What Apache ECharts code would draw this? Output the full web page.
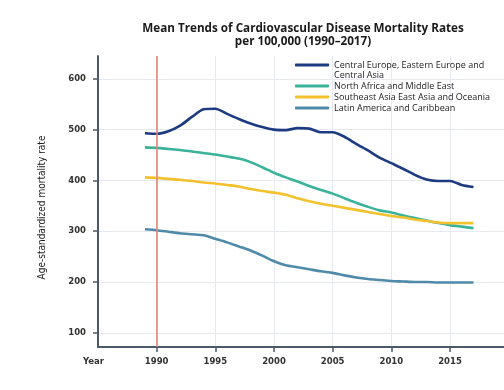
<!DOCTYPE html>
<html><head><meta charset="utf-8">
<script src="https://cdn.jsdelivr.net/npm/echarts@6/dist/echarts.min.js"></script>
<style>html,body{margin:0;padding:0;background:#fff}#c{width:504px;height:390px}</style>
</head><body><div id="c"></div><script>
const years = [1989,1990,1991,1992,1993,1994,1995,1996,1997,1998,1999,2000,2001,2002,2003,2004,2005,2006,2007,2008,2009,2010,2011,2012,2013,2014,2015,2016,2017];
const centralEurope = [493,492,497,508,525,540,541,531,521,512,505,500,499,503,502,495,495,486,472,459,445,434,423,411,402,399,399,391,387];
const northAfrica = [465,464,462,460,457,454,451,447,443,436,426,415,406,398,389,381,374,365,356,348,341,337,331,326,321,316,312,309,306];
const southeastAsia = [406,405,403,401,399,396,394,391,388,383,379,376,372,365,359,354,350,346,342,338,334,330,327,323,320,317,316,316,316];
const latinAmerica = [304,302,299,296,294,292,285,278,270,262,252,241,233,229,225,221,218,213,209,206,204,202,201,200,200,199,199,199,199];
const seriesNames = ['Central Europe, Eastern Europe and Central Asia','North Africa and Middle East','Southeast Asia East Asia and Oceania','Latin America and Caribbean'];
const xTickLabels = [1990,1995,2000,2005,2010,2015];
const yTickLabels = [100,200,300,400,500,600];
const markYear = 1990;

const colors = ['#1c3b80','#3bb39b','#f4c12e','#4f8aa8'];
const allData = [centralEurope, northAfrica, southeastAsia, latinAmerica];

const chart = echarts.init(document.getElementById('c'), null, {renderer:'canvas'});
const axisColor = '#4a5a6b';
const series = seriesNames.map((n,i)=>({
  name:n, type:'line', showSymbol:false, smooth:0.25,
  data: years.map((y,j)=>[y, allData[i][j]]),
  lineStyle:{color:colors[i], width:2.6},
  itemStyle:{color:colors[i]},
  z: 3
}));
series[0].markLine = {
  silent:true, symbol:['none','none'], label:{show:false},
  lineStyle:{color:'#e8837b', width:1.6, type:'solid'},
  data:[{xAxis:markYear}]
};
chart.setOption({
  backgroundColor:'#fff',
  animation:false,
  title:{
    text:'Mean Trends of Cardiovascular Disease Mortality Rates\nper 100,000 (1990\u20132017)',
    left:298, top:17, textAlign:'center',
    textStyle:{fontFamily:'Open Sans', fontWeight:'bold', fontSize:11.7, lineHeight:13, color:'#1a1a1a'}
  },
  legend:{
    orient:'vertical', left:295, top:50, itemGap:1, padding:0,
    icon:'roundRect', itemWidth:34, itemHeight:3,
    data: seriesNames,
    formatter: n => n===seriesNames[0] ? '\nCentral Europe, Eastern Europe and\nCentral Asia' : n,
    textStyle:{fontFamily:'Open Sans', fontSize:9, lineHeight:10, color:'#222'}
  },
  grid:{left:98, right:0, top:56, bottom:43, containLabel:false, outerBoundsMode:'none'},
  xAxis:{
    type:'value', min:1985, max:2019.6,
    axisLine:{lineStyle:{color:axisColor, width:2}},
    axisTick:{show:true, length:5, lineStyle:{color:axisColor, width:1.5}, customValues:xTickLabels},
    axisLabel:{
      customValues:[1985].concat(xTickLabels), margin:10,
      fontFamily:'DejaVu Sans', fontWeight:'bold', fontSize:8.5, color:'#333',
      formatter: v => v===1985 ? '{y|Year}' : String(v),
      rich:{y:{fontFamily:'DejaVu Sans', fontWeight:'bold', fontSize:8.5, color:'#333', padding:[0,9,0,0]}}
    },
    splitLine:{show:true, lineStyle:{color:'#e6eaef', width:1}}
  },
  yAxis:{
    type:'value', min:72, max:645,
    name:'Age-standardized mortality rate', nameLocation:'middle', nameGap:51,
    nameTextStyle:{fontFamily:"'Liberation Sans Narrow', 'DejaVu Sans Condensed', 'Roboto', sans-serif", fontSize:10, color:'#222', padding:[0,12,0,0]},
    axisLine:{show:true, lineStyle:{color:axisColor, width:2}},
    axisTick:{show:true, length:5, lineStyle:{color:axisColor, width:1.5}, customValues:yTickLabels},
    axisLabel:{customValues:yTickLabels, margin:12, fontFamily:'DejaVu Sans', fontWeight:'bold', fontSize:8.5, color:'#333'},
    splitLine:{show:true, lineStyle:{color:'#e6eaef', width:1}}
  },
  series: series
});
</script></body></html>
